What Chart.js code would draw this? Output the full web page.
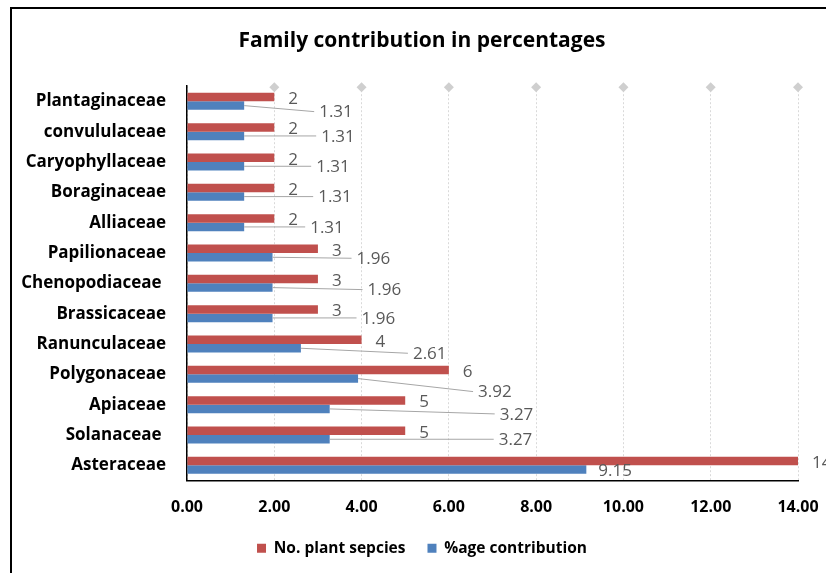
<!DOCTYPE html>
<html>
<head>
<meta charset="utf-8">
<script src="https://cdn.jsdelivr.net/npm/chart.js@4/dist/chart.umd.min.js"></script>
<style>
	html, body { margin: 0; padding: 0; background: #fff; overflow: hidden; width: 826px; height: 573px; }
	#frame { position: absolute; left: 10px; top: 7px; width: 900px; height: 650px; border: 2px solid #000; }
	#chart { position: absolute; left: 0; top: 0; }
</style>
</head>
<body>
<div id="frame"></div>
<canvas id="chart" width="844" height="573"></canvas>
<script>
var families = ['Plantaginaceae', 'convululaceae', 'Caryophyllaceae', 'Boraginaceae', 'Alliaceae', 'Papilionaceae',
	'Chenopodiaceae ', 'Brassicaceae', 'Ranunculaceae', 'Polygonaceae', 'Apiaceae', 'Solanaceae ', 'Asteraceae'];
var speciesCount = [2, 2, 2, 2, 2, 3, 3, 3, 4, 6, 5, 5, 14];
var percentShare = [1.31, 1.31, 1.31, 1.31, 1.31, 1.96, 1.96, 1.96, 2.61, 3.92, 3.27, 3.27, 9.15];
var seriesNames = ['No. plant sepcies', '%age contribution'];
var axisMax = 14;
var axisStep = 2;

// where Excel dragged the %age labels, [dx, dy] from the bar end
var pctLabelShift = [[75, 6], [77, 0], [72, 0], [74, 0], [66, 0], [84, 1], [95, 2], [89, 0],
	[112, 5], [120, 13], [170, 5], [169, 0], [12, 1]];

Chart.defaults.font.family = '"Open Sans", Lato, sans-serif';

var valueLabels = {
	id: 'valueLabels',
	afterDatasetsDraw: function (chart) {
		var ctx = chart.ctx;
		ctx.save();
		ctx.font = '17px "Open Sans"';
		ctx.fillStyle = '#595959';
		ctx.textAlign = 'left';
		ctx.textBaseline = 'middle';

		chart.getDatasetMeta(0).data.forEach(function (bar, i) {
			ctx.fillText(String(speciesCount[i]), bar.x + 14, bar.y + 2);
		});

		ctx.strokeStyle = '#a6a6a6';
		ctx.lineWidth = 1;
		chart.getDatasetMeta(1).data.forEach(function (bar, i) {
			var tx = bar.x + pctLabelShift[i][0];
			var ty = bar.y + pctLabelShift[i][1];
			if (pctLabelShift[i][0] > 20) {
				ctx.beginPath();
				ctx.moveTo(bar.x, bar.y);
				ctx.lineTo(tx - 5, ty);
				ctx.stroke();
			}
			ctx.fillText(percentShare[i].toFixed(2), tx, ty + 1);
		});
		ctx.restore();
	}
};

// grey diamond markers sitting on top of each gridline
var gridMarkers = {
	id: 'gridMarkers',
	afterDatasetsDraw: function (chart) {
		var ctx = chart.ctx;
		var xScale = chart.scales.x;
		var top = chart.chartArea.top + 1;
		ctx.save();
		ctx.fillStyle = '#cfcfcf';
		xScale.ticks.forEach(function (t) {
			if (t.value <= 0) return;
			var x = xScale.getPixelForValue(t.value);
			ctx.beginPath();
			ctx.moveTo(x, top - 5);
			ctx.lineTo(x + 5, top);
			ctx.lineTo(x, top + 5);
			ctx.lineTo(x - 5, top);
			ctx.closePath();
			ctx.fill();
		});
		ctx.restore();
	}
};

new Chart('chart', {
	type: 'bar',
	data: {
		labels: families,
		datasets: [
			{
				label: seriesNames[0],
				data: speciesCount,
				backgroundColor: '#C0504D',
				categoryPercentage: 0.56,
				barPercentage: 1.0
			},
			{
				label: seriesNames[1],
				data: percentShare,
				backgroundColor: '#4F81BD',
				categoryPercentage: 0.56,
				barPercentage: 1.0
			}
		]
	},
	plugins: [valueLabels, gridMarkers],
	options: {
		indexAxis: 'y',
		responsive: false,
		animation: false,
		layout: {
			padding: { left: 0, right: 0, top: 0, bottom: 7 }
		},
		plugins: {
			title: {
				display: true,
				text: 'Family contribution in percentages',
				color: '#000',
				font: { size: 21, weight: 'bold' },
				padding: { top: 28, bottom: 33 }
			},
			legend: {
				position: 'bottom',
				labels: {
					color: '#000',
					font: { size: 15.5, weight: 'bold' },
					boxWidth: 9,
					boxHeight: 9,
					padding: 22
				}
			},
			tooltip: { enabled: false }
		},
		scales: {
			x: {
				min: 0,
				max: axisMax,
				afterFit: function (scale) {
					scale.paddingLeft = 0;
					scale.paddingRight = 46;
					scale.height = 38;
				},
				ticks: {
					stepSize: axisStep,
					color: '#000',
					padding: 17,
					font: { size: 16, weight: 'bold' },
					callback: function (v) { return v.toFixed(2); }
				},
				grid: { color: '#d9d9d9', drawTicks: false },
				border: { color: '#000', width: 1.5, dash: [2, 2] }
			},
			y: {
				afterFit: function (scale) {
					scale.width = 187;
				},
				ticks: {
					color: '#000',
					padding: 21,
					font: { size: 17, weight: 'bold' }
				},
				grid: { drawOnChartArea: false, drawTicks: false },
				border: { color: '#000', width: 1.5 }
			}
		}
	}
});
</script>
</body>
</html>
